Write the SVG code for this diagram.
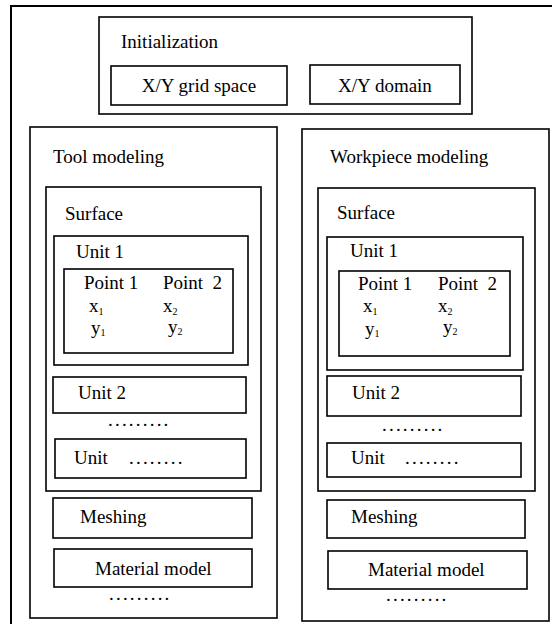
<svg xmlns="http://www.w3.org/2000/svg" width="552" height="624" viewBox="0 0 552 624">
<style>
rect{fill:none;stroke:#000;stroke-width:1.6}
rect.bg{fill:#fff;stroke:none}
rect.frame{stroke-width:2}
text{font-family:"Liberation Serif","Times New Roman",serif;font-size:19px;fill:#000}
.sub{font-size:10px}
.dots{letter-spacing:2.2px}
</style>
<rect class="bg" width="552" height="624"/>
<g id="frame"><rect class="frame" x="11" y="6" width="600" height="700"/></g>

<g id="initialization">
<rect x="99" y="17" width="373" height="97"/>
<text x="121" y="48">Initialization</text>
</g>
<g id="grid-space">
<rect x="111" y="66" width="176" height="39"/>
<text x="199" y="92" text-anchor="middle">X/Y grid space</text>
</g>
<g id="domain">
<rect x="310" y="65" width="150" height="39"/>
<text x="385" y="92" text-anchor="middle">X/Y domain</text>
</g>

<!-- Tool modeling -->
<g id="tool-modeling">
<rect x="30" y="127" width="247" height="491"/>
<text x="53" y="163">Tool modeling</text>
<text x="109" y="600" class="dots">.........</text>
</g>
<g id="tool-surface">
<rect x="46" y="187" width="215" height="304"/>
<text x="65" y="220">Surface</text>
<text x="108" y="426" class="dots">.........</text>
</g>
<g id="tool-unit1">
<rect x="54" y="236" width="194" height="129"/>
<text x="76" y="258">Unit 1</text>
</g>
<g id="tool-points">
<rect x="64" y="269" width="169" height="84"/>
<text x="84" y="289">Point 1</text>
<text x="163" y="289" xml:space="preserve">Point  2</text>
<text x="89" y="312">x<tspan class="sub" dy="3">1</tspan></text>
<text x="163" y="312">x<tspan class="sub" dy="3">2</tspan></text>
<text x="91" y="334">y<tspan class="sub" dy="2">1</tspan></text>
<text x="168" y="333">y<tspan class="sub" dy="2">2</tspan></text>
</g>
<g id="tool-unit2">
<rect x="53" y="377" width="193" height="36"/>
<text x="78" y="399">Unit 2</text>
</g>
<g id="tool-unitn">
<rect x="55" y="439" width="191" height="39"/>
<text x="74" y="464">Unit</text>
<text x="129" y="464" class="dots">........</text>
</g>
<g id="tool-meshing">
<rect x="53" y="498" width="199" height="40"/>
<text x="80" y="523">Meshing</text>
</g>
<g id="tool-material">
<rect x="54" y="549" width="198" height="38"/>
<text x="95" y="575">Material model</text>
</g>

<!-- Workpiece modeling -->
<g id="workpiece-modeling">
<rect x="302" y="129" width="247" height="492"/>
<text x="330" y="163">Workpiece modeling</text>
<text x="386" y="601" class="dots">.........</text>
</g>
<g id="wp-surface">
<rect x="318" y="188" width="217" height="303"/>
<text x="337" y="219">Surface</text>
<text x="382" y="431" class="dots">.........</text>
</g>
<g id="wp-unit1">
<rect x="327" y="237" width="196" height="133"/>
<text x="350" y="257">Unit 1</text>
</g>
<g id="wp-points">
<rect x="339" y="271" width="171" height="85"/>
<text x="358" y="290">Point 1</text>
<text x="438" y="290" xml:space="preserve">Point  2</text>
<text x="363" y="312">x<tspan class="sub" dy="3">1</tspan></text>
<text x="438" y="312">x<tspan class="sub" dy="3">2</tspan></text>
<text x="365" y="335">y<tspan class="sub" dy="2">1</tspan></text>
<text x="443" y="333">y<tspan class="sub" dy="2">2</tspan></text>
</g>
<g id="wp-unit2">
<rect x="327" y="376" width="194" height="40"/>
<text x="352" y="399">Unit 2</text>
</g>
<g id="wp-unitn">
<rect x="327" y="443" width="194" height="34"/>
<text x="351" y="464">Unit</text>
<text x="405" y="464" class="dots">........</text>
</g>
<g id="wp-meshing">
<rect x="327" y="500" width="198" height="38"/>
<text x="351" y="523">Meshing</text>
</g>
<g id="wp-material">
<rect x="328" y="551" width="199" height="38"/>
<text x="368" y="576">Material model</text>
</g>

<g id="connectors"></g>
</svg>
